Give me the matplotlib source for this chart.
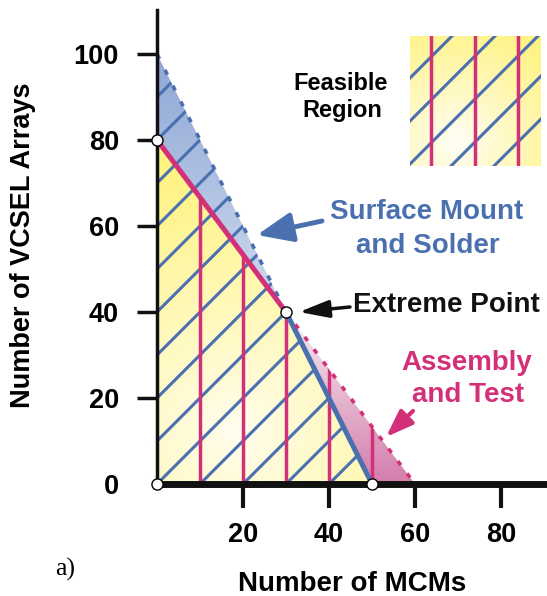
import numpy as np
import matplotlib.pyplot as plt
from matplotlib.patches import Polygon
from matplotlib.colors import to_rgb

# Constraint lines (LP example)
smt_x = [0, 50]     # Surface Mount and Solder
smt_y = [100, 0]
at_x = [0, 60]      # Assembly and Test
at_y = [80, 0]
extreme_x, extreme_y = 30, 40
corner_x = [0, 0, 30, 50]
corner_y = [0, 80, 40, 0]
mcm_ticks = [20, 40, 60, 80]
vcsel_ticks = [0, 20, 40, 60, 80, 100]

BLUE = '#4a70b0'
MAG = '#d3307a'
YEL = '#fff384'
W, H = 547, 596

plt.rcParams['font.family'] = ['Liberation Sans', 'DejaVu Sans']
plt.rcParams['font.weight'] = 'bold'

fig = plt.figure(figsize=(W / 100, H / 100), dpi=100)
ax = fig.add_axes([157 / W, 112 / H, 390 / W, 474 / H])
ax.set_xlim(0, 390 / 4.3)
ax.set_ylim(0, 474 / 4.3)


def fp(x, y):
    # pixel position (from top-left) -> figure pixels
    return (x, H - y)


def radial(ax, extent, cx, cy, r, edge, power=1.0, base=0.0, n=300):
    xs = np.linspace(extent[0], extent[1], n)
    ys = np.linspace(extent[2], extent[3], n)
    X, Y = np.meshgrid(xs, ys)
    t = np.clip(np.hypot(X - cx, Y - cy) / r, 0, 1) ** power
    t = base + (1 - base) * t
    c = np.array(to_rgb(edge))
    img = (1 - t)[..., None] * np.ones(3) + t[..., None] * c
    return ax.imshow(img, extent=extent, origin='lower', aspect='auto',
                     interpolation='bilinear', zorder=1)


def vertical(ax, extent, top, bottom, n=300):
    t = np.linspace(0, 1, n)[:, None, None]
    img = (1 - t) * np.array(to_rgb(bottom)) + t * np.array(to_rgb(top))
    img = np.repeat(img, 2, axis=1)
    return ax.imshow(img, extent=extent, origin='lower', aspect='auto',
                     interpolation='bilinear', zorder=1)


# region polygons
feas = Polygon(np.column_stack([corner_x, corner_y]), closed=True,
               fc='none', ec='none', transform=ax.transData)
blue_tri = Polygon([[0, smt_y[0]], [0, at_y[0]], [extreme_x, extreme_y]],
                   closed=True, fc='none', ec='none', transform=ax.transData)
mag_tri = Polygon([[extreme_x, extreme_y], [smt_x[1], 0], [at_x[1], 0]],
                  closed=True, fc='none', ec='none', transform=ax.transData)
under_smt = Polygon([[0, 0], [0, smt_y[0]], [smt_x[1], 0]], closed=True,
                    fc='none', ec='none', transform=ax.transData)
under_at = Polygon([[0, 0], [0, at_y[0]], [at_x[1], 0]], closed=True,
                   fc='none', ec='none', transform=ax.transData)
for p in (feas, blue_tri, mag_tri, under_smt, under_at):
    ax.add_patch(p)

im = radial(ax, [0, 50, 0, 80], 18, 12, 62, YEL, power=0.9, base=0.12)
im.set_clip_path(feas)
im = vertical(ax, [0, 30, 40, 100], '#8ea7d6', '#d0dbee')
im.set_clip_path(blue_tri)
im = vertical(ax, [30, 60, 0, 40], '#f6eef3', '#d47dab')
im.set_clip_path(mag_tri)

# hatching
for c in range(-50, 101, 10):
    x0 = max(0, -c)
    ln, = ax.plot([x0, x0 + 120], [x0 + c, x0 + 120 + c], color=BLUE, lw=2.2,
                  zorder=2, solid_capstyle='butt')
    ln.set_clip_path(under_smt)
for xv in range(10, 51, 10):
    ln, = ax.plot([xv, xv], [0, 100], color=MAG, lw=2.5, zorder=2.1,
                  solid_capstyle='butt')
    ln.set_clip_path(under_at)

# constraint boundaries
ax.plot([smt_x[0], extreme_x], [smt_y[0], extreme_y], color=BLUE, lw=2.6,
        ls=(0, (1.5, 3.4)), zorder=3)
ax.plot([extreme_x, smt_x[1]], [extreme_y, smt_y[1]], color=BLUE, lw=3.6,
        zorder=3, solid_capstyle='butt')
ax.plot([at_x[0], extreme_x], [at_y[0], extreme_y], color=MAG, lw=3.6,
        zorder=3, solid_capstyle='butt')
ax.plot([extreme_x, at_x[1]], [extreme_y, at_y[1]], color=MAG, lw=2.6,
        ls=(0, (1.4, 2.9)), zorder=3)

ax.plot(corner_x, corner_y, 'o', ms=8, mfc='white', mec='black', mew=1,
        zorder=6, clip_on=False, ls='none')

# axes styling
for s in ('top', 'right'):
    ax.spines[s].set_visible(False)
ax.spines['left'].set_linewidth(2.5)
ax.spines['bottom'].set_linewidth(5)
ax.spines['left'].set_color('#111111')
ax.spines['bottom'].set_color('#111111')
ax.spines['left'].set_zorder(4)
ax.spines['bottom'].set_zorder(4)
ax.set_xticks(mcm_ticks)
ax.set_yticks(vcsel_ticks)
ax.tick_params(axis='x', length=17, width=3, pad=10, labelsize=19.5,
               color='#111111')
ax.tick_params(axis='y', length=14.4, width=2.5, pad=13, labelsize=19.5,
               color='#111111')
ax.yaxis.get_major_ticks()[0].tick1line.set_visible(False)
for lab in ax.get_xticklabels() + ax.get_yticklabels():
    lab.set_fontweight('bold')

# axis titles
fig.text(352 / W, 1 - 591 / H, 'Number of MCMs', ha='center', va='baseline',
         fontsize=20, fontweight='bold')
fig.text(23 / W, 1 - 245 / H, 'Number of VCSEL Arrays', ha='center',
         va='center', rotation=90, fontsize=19.5, fontweight='bold')
fig.text(55 / W, 1 - 576 / H, 'a)', ha='left', va='baseline', fontsize=18.5,
         fontweight='normal', family='Liberation Serif')

# labels
fig.text(341 / W, 1 - 90 / H, 'Feasible', ha='center', va='baseline',
         fontsize=17, fontweight='bold')
fig.text(342 / W, 1 - 117 / H, 'Region', ha='center', va='baseline',
         fontsize=17, fontweight='bold')
fig.text(427 / W, 1 - 219 / H, 'Surface Mount', ha='center', va='baseline',
         fontsize=20, fontweight='bold', color=BLUE)
fig.text(428 / W, 1 - 253 / H, 'and Solder', ha='center', va='baseline',
         fontsize=20, fontweight='bold', color=BLUE)
fig.text(353 / W, 1 - 312 / H, 'Extreme Point', ha='left', va='baseline',
         fontsize=20, fontweight='bold', color='#111111')
fig.text(467 / W, 1 - 370 / H, 'Assembly', ha='center', va='baseline',
         fontsize=20, fontweight='bold', color=MAG)
fig.text(468 / W, 1 - 402 / H, 'and Test', ha='center', va='baseline',
         fontsize=20, fontweight='bold', color=MAG)

# arrows
ax.annotate('', xy=fp(257, 235), xytext=fp(322, 221), xycoords='figure pixels',
            textcoords='figure pixels',
            arrowprops=dict(arrowstyle='-|>,head_length=1.2,head_width=0.5',
                            color=BLUE, lw=3.5, mutation_scale=18,
                            shrinkA=0, shrinkB=0))
ax.annotate('', xy=fp(299, 312), xytext=fp(350, 307), xycoords='figure pixels',
            textcoords='figure pixels',
            arrowprops=dict(arrowstyle='-|>,head_length=1.2,head_width=0.35',
                            color='#111111', lw=2.5, mutation_scale=15,
                            shrinkA=0, shrinkB=0))
ax.annotate('', xy=fp(386, 437), xytext=fp(413, 411), xycoords='figure pixels',
            textcoords='figure pixels',
            arrowprops=dict(arrowstyle='-|>,head_length=1.1,head_width=0.4',
                            color=MAG, lw=3, mutation_scale=15,
                            shrinkA=0, shrinkB=0))

# legend swatch
lax = fig.add_axes([410 / W, 1 - 166 / H, 131 / W, 130 / H])
lax.set_xlim(0, 131)
lax.set_ylim(0, 130)
lax.axis('off')
radial(lax, [0, 131, 0, 130], 46, 23, 125, YEL, power=0.9, base=0.05)
for c in (88, 45, 2, -41, -84):
    x0 = max(0, -c)
    x1 = min(131, 130 - c)
    lax.plot([x0, x1], [x0 + c, x1 + c], color=BLUE, lw=2.2, zorder=2)
for xv in (21, 65, 108):
    lax.plot([xv, xv], [0, 130], color=MAG, lw=2.5, zorder=3)

fig.savefig('out.png', dpi=100)
